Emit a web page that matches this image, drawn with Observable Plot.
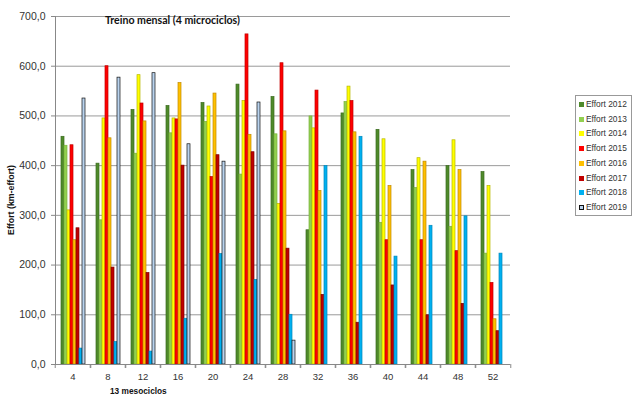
<!DOCTYPE html>
<html>
<head>
<meta charset="utf-8">
<script src="https://cdn.jsdelivr.net/npm/d3@7"></script>
<script src="https://cdn.jsdelivr.net/npm/@observablehq/plot@0.6"></script>
<style>
  body { margin: 0; background: #fff; }
  #wrap { position: relative; width: 640px; height: 404px; font-family: "Liberation Sans", Arial, sans-serif; }
  #title { position: absolute; left: 105px; top: 14px; font-family: Lato, "Liberation Sans", sans-serif; font-weight: bold; font-size: 10.6px; color: #111; white-space: nowrap; }
  #ylab { position: absolute; left: 11px; top: 200px; transform: translate(-50%, -50%) rotate(-90deg); font-weight: bold; font-size: 8.8px; color: #111; white-space: nowrap; }
  #xlab { position: absolute; left: 110px; top: 386px; font-weight: bold; font-size: 8.3px; color: #111; white-space: nowrap; }
  #legend { position: absolute; left: 575px; top: 95px; width: 57px; height: 121px; border: 1px solid #999; background: #fff; box-sizing: border-box; }
  .item { position: absolute; left: 3px; font-size: 8.4px; color: #333; white-space: nowrap; line-height: 10px; }
  .sw { display: inline-block; width: 5px; height: 5px; margin-right: 2px; vertical-align: 0px; box-sizing: border-box; }
</style>
</head>
<body>
<div id="wrap">
  <div id="chart"></div>
  <div id="title">Treino mensal (4 microciclos)</div>
  <div id="ylab">Effort (km-effort)</div>
  <div id="xlab">13 mesociclos</div>
  <div id="legend"></div>
</div>
<script>
const groups = [4, 8, 12, 16, 20, 24, 28, 32, 36, 40, 44, 48, 52];
const years = ["Effort 2012", "Effort 2013", "Effort 2014", "Effort 2015", "Effort 2016", "Effort 2017", "Effort 2018", "Effort 2019"];
const e2012 = [458, 404, 512, 520, 526, 563, 538, 270, 505, 472, 391, 399, 387];
const e2013 = [440, 290, 424, 465, 488, 382, 463, 499, 528, 285, 355, 277, 223];
const e2014 = [310, 495, 582, 495, 519, 530, 323, 475, 559, 453, 415, 451, 359];
const e2015 = [441, 600, 525, 493, 377, 664, 606, 551, 530, 250, 250, 228, 164];
const e2016 = [250, 455, 489, 566, 545, 462, 469, 349, 467, 359, 408, 391, 91];
const e2017 = [274, 195, 184, 400, 421, 427, 233, 140, 84, 159, 99, 122, 67];
const e2018 = [32, 45, 26, 92, 222, 170, 100, 399, 458, 217, 279, 298, 223];
const e2019 = [535, 577, 586, 443, 408, 527, 48, null, null, null, null, null, null];
const yTicks = [0, 100, 200, 300, 400, 500, 600, 700];

const fills = ["#4f8a2b", "#92d050", "#ffff00", "#ff0000", "#ffc000", "#c00000", "#00b0f0", "#b9d3ee"];
const strokes = ["#3b6b1f", "#7ab33c", "#b8b800", "#c00000", "#c08a00", "#800000", "#0088bb", "#111111"];

const series = [e2012, e2013, e2014, e2015, e2016, e2017, e2018, e2019];
const data = [];
series.forEach((arr, j) => arr.forEach((v, i) => {
  if (v != null) data.push({group: groups[i], year: years[j], value: v});
}));
const strokeOf = Object.fromEntries(years.map((y, j) => [y, strokes[j]]));

const W = 640, H = 404, mL = 51, mR = 127, mT = 16, mB = 40;
const step = (W - mL - mR) / groups.length;
const fmt = d => d.toFixed(1).replace(".", ",");

const chart = Plot.plot({
  width: W, height: H,
  marginLeft: mL, marginRight: mR, marginTop: mT, marginBottom: mB,
  style: {fontFamily: '"Liberation Sans", Arial, sans-serif', fontSize: "9px", color: "#333", background: "transparent"},
  fx: {domain: groups, padding: 0, axis: null, label: null},
  x: {domain: years, paddingInner: 0, paddingOuter: 0.64, axis: null},
  y: {domain: [0, 700], axis: null},
  color: {domain: years, range: fills},
  marks: [
    Plot.gridY(yTicks.slice(1), {stroke: "#9a9a9a", strokeOpacity: 1}),
    Plot.barY(data, {fx: "group", x: "year", y: "value", fill: "year", stroke: d => strokeOf[d.year], strokeWidth: 0.7}),
    Plot.ruleY([0], {stroke: "#888"}),
    Plot.axisY({ticks: yTicks, tickFormat: fmt, tickSize: 4, tickPadding: 6, stroke: "#888", label: null, fill: "#333", fontSize: 10.5}),
    Plot.frame({anchor: "left", facetAnchor: "left", stroke: "#888"}),
    Plot.axisFx({anchor: "bottom", tickSize: 0, tickPadding: 9, label: null, fill: "#333", fontSize: 9.5}),
    Plot.axisFx({anchor: "bottom", tickSize: 4, tickFormat: () => "", label: null, dx: -step / 2, stroke: "#888"}),
    Plot.axisFx({anchor: "bottom", tickSize: 4, tickFormat: () => "", label: null, dx: step / 2, stroke: "#888"})
  ]
});
document.getElementById("chart").appendChild(chart);

const legend = document.getElementById("legend");
years.forEach((y, j) => {
  const it = document.createElement("div");
  it.className = "item";
  it.style.top = (3 + j * 14.7) + "px";
  const sw = document.createElement("span");
  sw.className = "sw";
  sw.style.background = fills[j];
  sw.style.border = j === 7 ? "1px solid #111" : "none";
  it.appendChild(sw);
  it.appendChild(document.createTextNode(y));
  legend.appendChild(it);
});
</script>
</body>
</html>
